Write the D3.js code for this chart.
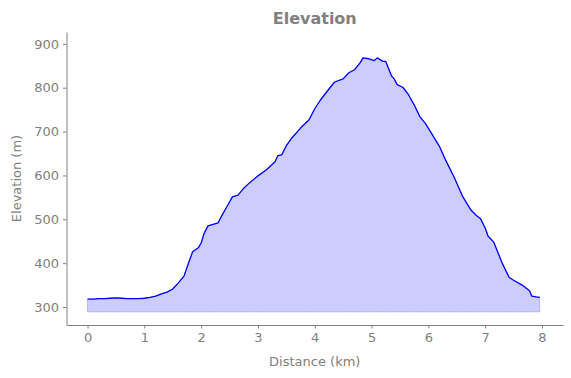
<!DOCTYPE html>
<html lang='en'>
	<head>
		<title>Elevation</title>
		<script type='text/javascript' src='https://cdn.jsdelivr.net/npm/d3@7'></script>
		<style>
			body { margin: 0; background: #fff; }
			text { font-family: 'DejaVu Sans', sans-serif; }
		</style>
	</head>
	<body>
		<script type='text/javascript'>
		var distance = [0, 0.1, 0.2, 0.3, 0.4, 0.5, 0.6, 0.7, 0.8, 0.9, 1.0, 1.1, 1.2, 1.3, 1.4, 1.5, 1.6, 1.7, 1.75, 1.85, 1.95, 2.0, 2.05, 2.12, 2.3, 2.35, 2.45, 2.55, 2.65, 2.75, 2.85, 3.0, 3.15, 3.3, 3.35, 3.42, 3.5, 3.6, 3.75, 3.9, 4.0, 4.1, 4.25, 4.35, 4.5, 4.6, 4.7, 4.8, 4.85, 4.95, 5.05, 5.1, 5.2, 5.25, 5.35, 5.4, 5.45, 5.55, 5.65, 5.75, 5.85, 5.95, 6.05, 6.2, 6.3, 6.45, 6.6, 6.75, 6.85, 6.92, 7.0, 7.05, 7.15, 7.3, 7.42, 7.5, 7.65, 7.78, 7.82, 7.9, 7.96];
		var elevation = [318, 318, 319, 319, 320, 321, 320, 319, 319, 319, 320, 322, 325, 330, 334, 341, 355, 371, 390, 426, 435, 446, 467, 485, 492, 505, 528, 551, 555, 571, 583, 599, 613, 631, 645, 647, 668, 686, 708, 727, 752, 772, 797, 813, 820, 834, 841, 857, 868, 866, 862, 868, 860, 860, 827, 820, 807, 801, 784, 761, 734, 718, 697, 665, 636, 597, 553, 521, 508, 501, 480, 462, 448, 400, 368, 361, 350, 337, 325, 323, 322];
		var xTicks = [0, 1, 2, 3, 4, 5, 6, 7, 8];
		var yTicks = [300, 400, 500, 600, 700, 800, 900];
		var baseElevation = 289;

		{
			var width = 571, height = 378;
			var plotL = 66.5, plotR = 563, plotT = 32, plotB = 325;
			var grey = '#808080';

			var data = distance.map((d, i) => [d, elevation[i]]);
			var svg = d3.select('body').append('svg').attr('width', width).attr('height', height);

			var x = d3.scaleLinear().domain([-0.37, 8.37]).range([plotL, plotR]);
			var y = d3.scaleLinear().domain([259, 927]).range([plotB, plotT]);

			var area = d3.area().x(d => x(d[0])).y0(y(baseElevation)).y1(d => y(d[1]));
			var line = d3.line().x(d => x(d[0])).y(d => y(d[1]));

			svg.append('path').datum(data).attr('d', area)
				.attr('fill', 'rgba(0,0,255,0.2)').attr('stroke', 'rgba(0,0,255,0.2)').attr('stroke-width', 1);
			svg.append('path').datum(data).attr('d', line)
				.attr('fill', 'none').attr('stroke', 'blue').attr('stroke-width', 1.3).attr('stroke-linejoin', 'round');

			var xAxis = svg.append('g').attr('transform', 'translate(0,' + plotB + ')')
				.call(d3.axisBottom(x).tickValues(xTicks).tickSize(3.5).tickPadding(4).tickSizeOuter(0));
			var yAxis = svg.append('g').attr('transform', 'translate(' + plotL + ',0)')
				.call(d3.axisLeft(y).tickValues(yTicks).tickSize(3.5).tickPadding(4).tickSizeOuter(0));
			[xAxis, yAxis].forEach(g => {
				g.select('.domain').attr('stroke', grey).attr('stroke-width', 1);
				g.selectAll('.tick line').attr('stroke', grey);
				g.selectAll('.tick text').attr('fill', grey).style('font-size', '13px').style('font-family', 'DejaVu Sans');
			});

			svg.append('text').attr('x', (plotL + plotR) / 2).attr('y', 24).attr('text-anchor', 'middle')
				.attr('fill', grey).style('font-size', '16px').style('font-weight', 'bold').text('Elevation');
			svg.append('text').attr('x', (plotL + plotR) / 2).attr('y', 366).attr('text-anchor', 'middle')
				.attr('fill', grey).style('font-size', '13px').text('Distance (km)');
			svg.append('text').attr('transform', 'translate(21,' + (plotT + plotB) / 2 + ') rotate(-90)').attr('text-anchor', 'middle')
				.attr('fill', grey).style('font-size', '13px').text('Elevation (m)');
		}
		</script>
	</body>
</html>
